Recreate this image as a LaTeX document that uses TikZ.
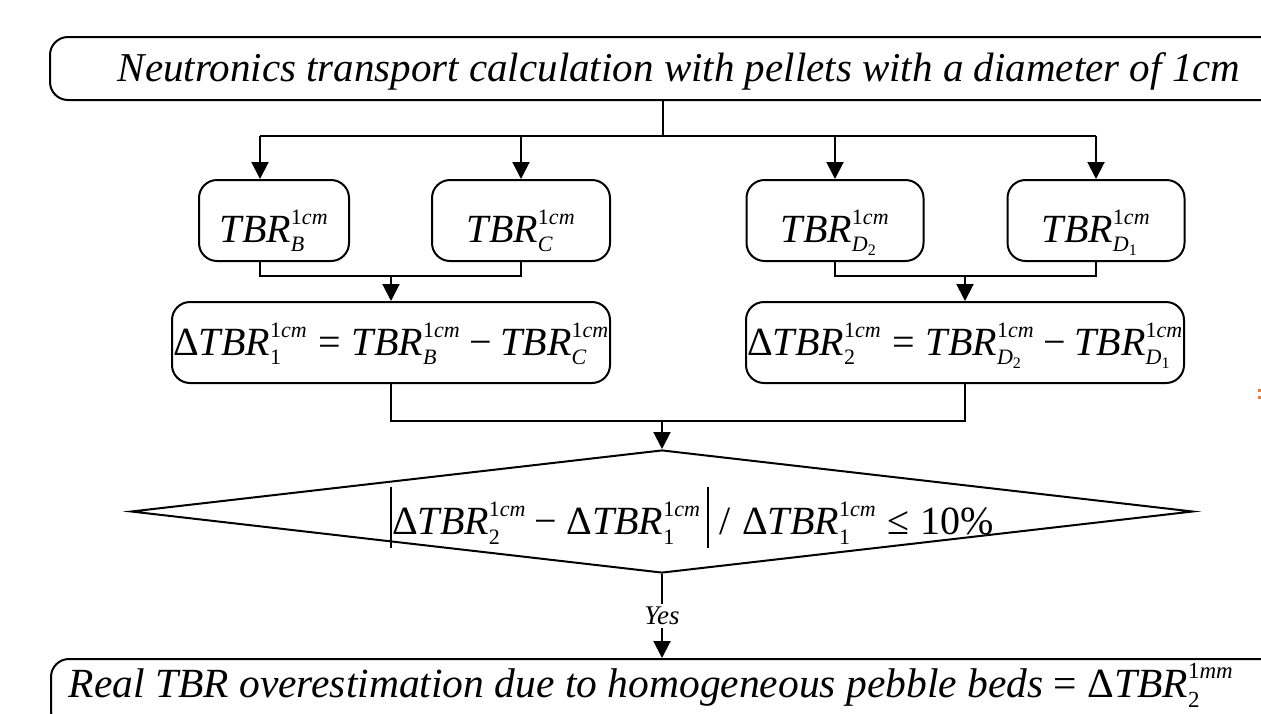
\documentclass[tikz,border=0pt]{standalone}
\usepackage{fix-cm}
\usepackage{amsmath}
\usepackage{fontspec}
\setmainfont{Liberation Serif}
\usetikzlibrary{arrows.meta,shapes.geometric}

\definecolor{markorange}{RGB}{237,125,49}
\DeclareMathSizes{40}{40}{22}{16}
\DeclareMathSizes{41.5}{41.5}{23}{17}

\newcommand{\vi}[1]{\text{\itshape #1}}
\newcommand{\vu}[1]{\text{\upshape #1}}
\newcommand{\tbr}[2]{\vi{TBR}_{#1}^{\vu{1}\vi{#2}}}
\newcommand{\dtbr}[1]{\vu{Δ}\tbr{\vu{#1}}{cm}}
\newcommand{\absbar}{\mbox{\rule[-13pt]{1.8pt}{61pt}}}

\begin{document}
\begin{tikzpicture}[x=1pt,y=-1pt,line width=2pt,
  box/.style={draw,rounded corners=18pt,inner sep=1pt,minimum height=81pt,
    text depth=0pt,font=\fontsize{40}{48}\selectfont\itshape},
  bar/.style={draw,rounded corners=18pt,inner sep=1pt,minimum height=63pt,
    font=\fontsize{41}{48}\selectfont\itshape},
  arr/.style={-{Triangle[length=17pt,width=17pt]}}]
\useasboundingbox (0,0) rectangle (1261,713);
\clip (0,0) rectangle (1261,713);

\node[bar,minimum width=1258pt,text height=25pt,text depth=0pt] (top) at (679,68.5)
  {Neutronics transport calculation with pellets with a diameter of 1cm};

\node[box,text height=43pt,minimum width=150pt] (B) at (274,220.5) {$\tbr{\vi{B}}{cm}$};
\node[box,text height=43pt,minimum width=178pt] (C) at (521,220.5) {$\tbr{\vi{C}}{cm}$};
\node[box,text height=43pt,minimum width=177pt] (D2) at (835,220.5) {$\tbr{\vi{D}_{\vu{2}}}{cm}$};
\node[box,text height=43pt,minimum width=177pt] (D1) at (1096,220.5) {$\tbr{\vi{D}_{\vu{1}}}{cm}$};

\node[box,text height=25pt,minimum width=438pt] (d1) at (391,342.5)
  {$\dtbr{1}\mathrel{\vu{=}}\tbr{\vi{B}}{cm}\mathbin{\vu{−}}\tbr{\vi{C}}{cm}$};
\node[box,text height=25pt,minimum width=438pt] (d2) at (965,342.5)
  {$\dtbr{2}\mathrel{\vu{=}}\tbr{\vi{D}_{\vu{2}}}{cm}\mathbin{\vu{−}}\tbr{\vi{D}_{\vu{1}}}{cm}$};

\node[diamond,draw,minimum width=1062pt,minimum height=123pt,inner sep=0pt,
  font=\fontsize{40}{48}\selectfont\itshape] (check) at (662,511.5)
  {\makebox[0pt]{\hspace*{60pt}\raisebox{-23pt}[0pt][0pt]{$\absbar\dtbr{2}\mathbin{\vu{−}}\dtbr{1}\,\absbar\;\vu{/}\;\dtbr{1}\mathrel{\vu{≤}}\vu{10\%}$}}};

\node[bar,minimum width=1300pt,minimum height=70pt,anchor=north west] (res) at (50,658) {};
\node[font=\fontsize{41.5}{48}\selectfont\itshape,anchor=base] (restext) at (651,697)
  {Real TBR overestimation due to homogeneous pebble beds {\upshape =} $\vu{Δ}\tbr{\vu{2}}{mm}$};

\coordinate (split) at (663,135.5);
\draw (top.south -| split) -- (split);
\draw ([xshift=-14pt]B.north |- split) -- (D1.north |- split);
\foreach \n/\s in {B/-14,C/0,D2/0,D1/0}
  \draw[arr] ([xshift=\s pt]\n.north |- split) -- ([xshift=\s pt]\n.north);

\draw ([xshift=-14pt]B.south) |- ([yshift=25pt]d1.north -| C.south) -- (C.south);
\draw[arr] ([yshift=25pt]d1.north) -- (d1.north);
\draw (D2.south) |- ([yshift=25pt]d2.north -| D1.south) -- (D1.south);
\draw[arr] ([yshift=25pt]d2.north) -- (d2.north);

\draw (d1.south) |- ([yshift=28pt]check.north -| d2.south) -- (d2.south);
\draw[arr] ([yshift=28pt]check.north) -- (check.north);

\draw[arr] (check.south) -- node[fill=white,inner sep=3pt,
  font=\fontsize{27}{32}\selectfont\itshape] (yes) {Yes} (check.south |- res.north);

\fill[markorange] (1258,389) rectangle (1261,392);
\fill[markorange] (1258,396) rectangle (1261,399);
\end{tikzpicture}
\end{document}
